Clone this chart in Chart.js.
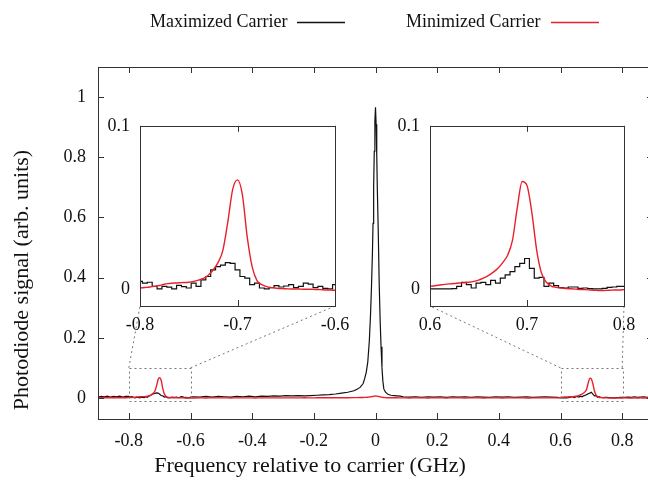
<!DOCTYPE html>
<html>
<head>
<meta charset="utf-8">
<script src="https://cdn.jsdelivr.net/npm/chart.js@4.4.1/dist/chart.umd.min.js"></script>
<style>
  html, body { margin: 0; padding: 0; background: #fff; overflow: hidden; }
  #wrap { position: relative; width: 648px; height: 487px; overflow: hidden; background: #fff; }
  canvas { position: absolute; }
  #main { left: 0; top: 0; }
  #insetL { left: 90px; top: 105px; }
  #insetR { left: 380px; top: 105px; }
</style>
</head>
<body>
<div id="wrap">
  <canvas id="main" width="660" height="487"></canvas>
  <canvas id="insetL" width="270" height="240"></canvas>
  <canvas id="insetR" width="270" height="240"></canvas>
</div>
<script>
// ---- data ----
const seriesNames = ['Maximized Carrier', 'Minimized Carrier'];

// main plot, everything outside the two zoom windows
const mainX = [-0.90, -0.89, -0.88, -0.87, -0.86, -0.85, -0.84, -0.83, -0.82, -0.81,
  -0.59, -0.57, -0.55, -0.53, -0.51, -0.49, -0.47, -0.45, -0.43, -0.41,
  -0.39, -0.37, -0.35, -0.33, -0.31, -0.29, -0.27, -0.25, -0.23, -0.21,
  -0.19, -0.17, -0.15, -0.13, -0.11, -0.09, -0.07, -0.06, -0.05, -0.04,
  -0.035, -0.03, -0.025, -0.02, -0.016, -0.013, -0.01, -0.008, -0.006, -0.004,
  -0.002, 0, 0.002, 0.004, 0.006, 0.009, 0.012, 0.015, 0.018, 0.021,
  0.024, 0.027, 0.032, 0.04, 0.05, 0.06, 0.07, 0.08, 0.09, 0.11,
  0.13, 0.15, 0.17, 0.19, 0.21, 0.23, 0.25, 0.27, 0.29, 0.31,
  0.33, 0.35, 0.37, 0.39, 0.41, 0.43, 0.45, 0.47, 0.49, 0.51,
  0.53, 0.55, 0.57, 0.59,
  0.81, 0.82, 0.83, 0.84, 0.85, 0.86, 0.87, 0.88, 0.89, 0.90];
const mainBlack = [0.003, 0.005, 0.004, 0.006, 0.003, 0.005, 0.004, 0.006, 0.003, 0.005,
  0.004, 0.003, 0.005, 0.003, 0.005, 0.004, 0.003, 0.005, 0.004, 0.006,
  0.004, 0.006, 0.005, 0.007, 0.006, 0.008, 0.007, 0.008, 0.007, 0.008,
  0.009, 0.010, 0.011, 0.013, 0.016, 0.019, 0.024, 0.029, 0.035, 0.048,
  0.065, 0.085, 0.12, 0.19, 0.28, 0.37, 0.48, 0.58, 0.70, 0.82,
  0.92, 0.966, 0.91, 0.81, 0.69, 0.55, 0.38, 0.26, 0.17, 0.10,
  0.055, 0.030, 0.020, 0.012, 0.009, 0.008, 0.007, 0.006, 0.004, 0.003,
  0.004, 0.002, 0.004, 0.003, 0.004, 0.002, 0.004, 0.003, 0.004, 0.002,
  0.004, 0.003, 0.002, 0.004, 0.003, 0.004, 0.002, 0.003, 0.004, 0.002,
  0.003, 0.004, 0.003, 0.002,
  0.002, 0.003, 0.002, 0.004, 0.002, 0.003, 0.004, 0.002, 0.003, 0.002];
const mainRed = [0.0008, 0.0008, 0.0008, 0.0008, 0.0008, 0.0008, 0.0008, 0.0008, 0.0008, 0.0008,
  0.0000, 0.0002, 0.0000, 0.0003, 0.0001, 0.0002, 0.0000, 0.0003, 0.0001, 0.0002,
  0.0000, 0.0003, 0.0002, 0.0001, 0.0003, 0.0002, 0.0003, 0.0002, 0.0004, 0.0003,
  0.0004, 0.0005, 0.0005, 0.0006, 0.0007, 0.0008, 0.0010, 0.0012, 0.0014, 0.0016,
  0.0018, 0.0020, 0.0025, 0.0030, 0.0036, 0.0042, 0.0048, 0.0052, 0.0056, 0.0060,
  0.0062, 0.0063, 0.0062, 0.0060, 0.0056, 0.0050, 0.0044, 0.0036, 0.0028, 0.0022,
  0.0018, 0.0014, 0.0010, 0.0008, 0.0006, 0.0005, 0.0004, 0.0003, 0.0002, 0.0000,
  0.0002, 0.0001, 0.0000, 0.0002, 0.0001, 0.0000, 0.0002, 0.0001, 0.0000, 0.0002,
  0.0001, 0.0000, 0.0001, 0.0002, 0.0000, 0.0001, 0.0002, 0.0001, 0.0000, 0.0001,
  0.0002, 0.0001, 0.0002, 0.0003,
  0.0001, 0.0000, -0.0002, 0.0001, 0.0000, 0.0001, 0.0000, 0.0000, 0.0001, 0.0000];

// left zoom window (-0.8 .. -0.6)
const leftX = [-0.800, -0.795, -0.790, -0.785, -0.780, -0.775, -0.770, -0.765, -0.760, -0.755,
  -0.750, -0.745, -0.740, -0.735, -0.730, -0.725, -0.720, -0.715, -0.710, -0.705,
  -0.700, -0.695, -0.690, -0.685, -0.680, -0.675, -0.670, -0.665, -0.660, -0.655,
  -0.650, -0.645, -0.640, -0.635, -0.630, -0.625, -0.620, -0.615, -0.610, -0.605, -0.600];
const leftBlack = [0.005, 0.004, 0.0045, 0.002, 0.0005, 0.002, 0.0015, 0.0004, 0.0026, 0.0018,
  0.001, 0.004, 0.002, 0.006, 0.008, 0.012, 0.014, 0.015, 0.0165, 0.016,
  0.012, 0.008, 0.007, 0.003, 0.004, 0.001, 0.0004, 0.0012, 0.0024, 0.0016,
  0.0022, 0.003, 0.0012, 0.002, 0.004, 0.0034, 0.0012, 0.002, 0.0008, 0.0004, 0.003];
const leftRed = [0.001, 0.0013, 0.0016, 0.002, 0.0025, 0.0033, 0.0037, 0.004, 0.0042, 0.0043,
  0.0045, 0.005, 0.0058, 0.0068, 0.0088, 0.012, 0.0165, 0.024, 0.041, 0.061,
  0.067, 0.058, 0.032, 0.014, 0.0055, 0.003, 0.0018, 0.0012, 0.0008, 0.0006,
  0.0005, 0.0004, 0.0004, 0.0003, 0.0002, 0.0002, 0.0001, 0.0000, -0.0002, -0.0003, -0.0004];

// right zoom window (0.6 .. 0.8)
const rightX = [0.600, 0.605, 0.610, 0.615, 0.620, 0.625, 0.630, 0.635, 0.640, 0.645,
  0.650, 0.655, 0.660, 0.665, 0.670, 0.675, 0.680, 0.685, 0.690, 0.695,
  0.700, 0.705, 0.710, 0.715, 0.720, 0.725, 0.730, 0.735, 0.740, 0.745,
  0.750, 0.755, 0.760, 0.765, 0.770, 0.775, 0.780, 0.785, 0.790, 0.795, 0.800];
const rightBlack = [0.0004, 0.0004, 0.0004, 0.0004, 0.0004, 0.0006, 0.002, 0.0044, 0.003, 0.001,
  0.004, 0.0044, 0.003, 0.0056, 0.004, 0.007, 0.009, 0.011, 0.014, 0.016,
  0.019, 0.013, 0.007, 0.0075, 0.002, 0.004, 0.0024, 0.0012, 0.001, 0.0016,
  0.0016, 0.0008, 0.001, 0.0006, 0.0004, 0.0004, 0.0008, 0.0014, 0.0016, 0.002, 0.002];
const rightRed = [0.002, 0.0024, 0.0028, 0.0032, 0.0035, 0.0037, 0.004, 0.0042, 0.0045, 0.005,
  0.0058, 0.007, 0.0085, 0.0105, 0.013, 0.0165, 0.021, 0.030, 0.050, 0.066,
  0.0635, 0.047, 0.024, 0.010, 0.0045, 0.0022, 0.0014, 0.001, 0.0007, 0.0005,
  0.0003, 0.0001, 0.0, -0.0002, -0.0004, -0.0006, -0.0005, -0.0004, -0.0002, -0.0002, 0.0];

// tick labels
const mainXTicks = [-0.8, -0.6, -0.4, -0.2, 0, 0.2, 0.4, 0.6, 0.8];
const mainYTicks = [0, 0.2, 0.4, 0.6, 0.8, 1];
const leftXTicks = [-0.8, -0.7, -0.6];
const rightXTicks = [0.6, 0.7, 0.8];
const insetYTicks = [0, 0.1];
const insetYMin = -0.01, insetYMax = 0.1;

const BLACK = '#111111';
const RED = '#e8202a';
const FRAME = '#333333';
const SERIF = '"Liberation Serif", "Times New Roman", serif';

Chart.defaults.font.family = SERIF;
Chart.defaults.color = '#111';

function zip(xs, ys) {
  return xs.map((x, i) => ({ x: x, y: ys[i] }));
}
function merged(parts) {
  let pts = [];
  parts.forEach(p => { pts = pts.concat(zip(p[0], p[1])); });
  return pts.sort((a, b) => a.x - b.x);
}
function fmt(v) {
  const r = Math.round(v * 10) / 10;
  return r === 0 ? '0' : String(r);
}

/**
 * inset frame + inward ticks
 */
const insetDecor = {
  id: 'insetDecor',
  beforeDatasetsDraw(chart) {
    const a = chart.chartArea, ctx = chart.ctx;
    ctx.save();
    ctx.fillStyle = '#fff';
    ctx.fillRect(a.left, a.top, a.right - a.left, a.bottom - a.top);
    ctx.restore();
  },
  afterDatasetsDraw(chart) {
    const a = chart.chartArea, ctx = chart.ctx, xs = chart.scales.x;
    ctx.save();
    ctx.strokeStyle = FRAME;
    ctx.lineWidth = 1;
    ctx.strokeRect(Math.round(a.left) + 0.5, Math.round(a.top) + 0.5,
      Math.round(a.right - a.left), Math.round(a.bottom - a.top));
    xs.ticks.forEach(t => {
      const px = Math.round(xs.getPixelForValue(t.value)) + 0.5;
      ctx.beginPath();
      ctx.moveTo(px, a.top); ctx.lineTo(px, a.top + 6);
      ctx.moveTo(px, a.bottom); ctx.lineTo(px, a.bottom - 6);
      ctx.stroke();
    });
    ctx.restore();
  }
};

function makeInset(id, xs, black, red, xTicks, padRight) {
  return new Chart(document.getElementById(id), {
    type: 'line',
    data: {
      datasets: [
        { label: seriesNames[1], data: zip(xs, red), borderColor: RED, borderWidth: 1.4,
          pointRadius: 0, cubicInterpolationMode: 'monotone', order: 1 },
        { label: seriesNames[0], data: zip(xs, black), borderColor: BLACK, borderWidth: 1.2,
          pointRadius: 0, stepped: 'middle', order: 2 }
      ]
    },
    options: {
      responsive: false,
      animation: false,
      events: [],
      layout: { padding: { left: 0, right: padRight, top: 18, bottom: 0 } },
      plugins: { legend: { display: false }, tooltip: { enabled: false } },
      scales: {
        x: {
          type: 'linear', min: xs[0], max: xs[xs.length - 1],
          afterBuildTicks: s => { s.ticks = xTicks.map(v => ({ value: v })); },
          afterFit: s => { s.height = 39; },
          grid: { display: false, drawTicks: false },
          border: { display: false },
          ticks: { padding: 8, maxRotation: 0, font: { size: 18 }, color: '#111', callback: v => fmt(v) }
        },
        y: {
          min: insetYMin, max: insetYMax,
          afterBuildTicks: s => { s.ticks = insetYTicks.map(v => ({ value: v })); },
          afterFit: s => { s.width = 50; },
          grid: { display: false, drawTicks: false },
          border: { display: false },
          ticks: { padding: 10, font: { size: 18 }, color: '#111', callback: v => fmt(v) }
        }
      }
    },
    plugins: [insetDecor]
  });
}

const insetL = makeInset('insetL', leftX, leftBlack, leftRed, leftXTicks, 25);
const insetR = makeInset('insetR', rightX, rightBlack, rightRed, rightXTicks, 26);

/**
 * main frame, inward ticks, zoom boxes, legend and axis titles
 */
const mainDecor = {
  id: 'mainDecor',
  afterDatasetsDraw(chart) {
    const a = chart.chartArea, ctx = chart.ctx;
    const sx = chart.scales.x, sy = chart.scales.y;
    ctx.save();
    ctx.strokeStyle = FRAME;
    ctx.lineWidth = 1;
    ctx.strokeRect(Math.round(a.left) + 0.5, Math.round(a.top) + 0.5,
      Math.round(a.right - a.left), Math.round(a.bottom - a.top));
    ctx.beginPath();
    sx.ticks.forEach(t => {
      const px = Math.round(sx.getPixelForValue(t.value)) + 0.5;
      ctx.moveTo(px, a.bottom); ctx.lineTo(px, a.bottom - 6);
      ctx.moveTo(px, a.top); ctx.lineTo(px, a.top + 6);
    });
    sy.ticks.forEach(t => {
      const py = Math.round(sy.getPixelForValue(t.value)) + 0.5;
      ctx.moveTo(a.left, py); ctx.lineTo(a.left + 6, py);
      ctx.moveTo(a.right, py); ctx.lineTo(a.right - 6, py);
    });
    ctx.stroke();

    // dashed zoom boxes and connectors to the insets
    ctx.strokeStyle = '#777';
    ctx.setLineDash([2, 3]);
    [[leftX, insetL], [rightX, insetR]].forEach(([xs, inset]) => {
      const x0 = sx.getPixelForValue(xs[0]), x1 = sx.getPixelForValue(xs[xs.length - 1]);
      const y0 = sy.getPixelForValue(insetYMax), y1 = sy.getPixelForValue(insetYMin);
      ctx.strokeRect(Math.round(x0) + 0.5, Math.round(y0) + 0.5, Math.round(x1 - x0), Math.round(y1 - y0));
      const off = inset.canvas;
      const ia = inset.chartArea;
      const bl = [off.offsetLeft + ia.left, off.offsetTop + ia.bottom];
      const br = [off.offsetLeft + ia.right, off.offsetTop + ia.bottom];
      ctx.beginPath();
      ctx.moveTo(x0, y0); ctx.lineTo(bl[0], bl[1]);
      ctx.moveTo(x1, y0); ctx.lineTo(br[0], br[1]);
      ctx.stroke();
    });
    ctx.restore();
  },
  afterDraw(chart) {
    const ctx = chart.ctx;
    ctx.save();
    ctx.fillStyle = '#111';
    ctx.font = '18px ' + SERIF;
    ctx.textBaseline = 'middle';

    // legend: text followed by line sample
    const legend = [[seriesNames[0], BLACK, 150, 297], [seriesNames[1], RED, 406, 551]];
    legend.forEach(([txt, col, tx, lx]) => {
      ctx.textAlign = 'left';
      ctx.fillText(txt, tx, 22);
      ctx.strokeStyle = col;
      ctx.lineWidth = 1.3;
      ctx.beginPath();
      ctx.moveTo(lx, 22.5); ctx.lineTo(lx + 48, 22.5);
      ctx.stroke();
    });

    // axis titles
    ctx.font = '22px ' + SERIF;
    ctx.textAlign = 'center';
    ctx.fillText('Frequency relative to carrier (GHz)', 310, 466);
    ctx.translate(22, 280);
    ctx.rotate(-Math.PI / 2);
    ctx.fillText('Photodiode signal (arb. units)', 0, 0);
    ctx.restore();
  }
};

new Chart(document.getElementById('main'), {
  type: 'line',
  data: {
    datasets: [
      { label: seriesNames[0], data: merged([[mainX, mainBlack], [leftX, leftBlack], [rightX, rightBlack]]),
        borderColor: BLACK, borderWidth: 1.2, pointRadius: 0, tension: 0, order: 2 },
      { label: seriesNames[1], data: merged([[mainX, mainRed], [leftX, leftRed], [rightX, rightRed]]),
        borderColor: RED, borderWidth: 1.4, pointRadius: 0, cubicInterpolationMode: 'monotone', order: 1 }
    ]
  },
  options: {
    responsive: false,
    animation: false,
    events: [],
    layout: { padding: { left: 0, right: 7, top: 67, bottom: 0 } },
    plugins: { legend: { display: false }, tooltip: { enabled: false } },
    scales: {
      x: {
        type: 'linear', min: -0.9, max: 0.9,
        afterBuildTicks: s => { s.ticks = mainXTicks.map(v => ({ value: v })); },
        afterFit: s => { s.height = 68; },
        grid: { display: false, drawTicks: false },
        border: { display: false },
        ticks: { padding: 11, maxRotation: 0, font: { size: 18 }, color: '#111', callback: v => fmt(v) }
      },
      y: {
        min: -0.07, max: 1.1,
        afterBuildTicks: s => { s.ticks = mainYTicks.map(v => ({ value: v })); },
        afterFit: s => { s.width = 98; },
        grid: { display: false, drawTicks: false },
        border: { display: false },
        ticks: { padding: 12, font: { size: 18 }, color: '#111', callback: v => fmt(v) }
      }
    }
  },
  plugins: [mainDecor]
});
</script>
</body>
</html>
